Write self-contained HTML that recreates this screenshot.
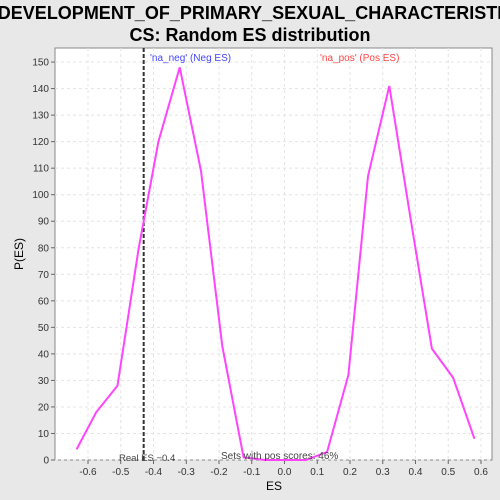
<!DOCTYPE html>
<html><head><meta charset="utf-8"><style>
body{margin:0;background:#e8e8e8;font-family:"Liberation Sans",sans-serif}
svg{display:block}
</style></head><body>
<svg width="500" height="500">
<rect x="0" y="0" width="500" height="500" fill="#e8e8e8"/>
<text x="250" y="19" text-anchor="middle" font-size="18" font-weight="bold" fill="#000">DEVELOPMENT_OF_PRIMARY_SEXUAL_CHARACTERISTI</text>
<text x="250" y="41" text-anchor="middle" font-size="18" font-weight="bold" fill="#000">CS: Random ES distribution</text>
<rect x="55" y="48" width="437" height="412" fill="#fff" stroke="#888"/>
<g id="grid"></g><g id="axes"></g><g id="series"></g>
<text x="274" y="490" text-anchor="middle" font-size="12">ES</text>
<text x="23" y="254" text-anchor="middle" font-size="12" transform="rotate(-90 23 254)">P(ES)</text>
<text x="150" y="61" font-size="10" fill="#4444ff">'na_neg' (Neg ES)</text>
<text x="320" y="61" font-size="10" fill="#ff4444">'na_pos' (Pos ES)</text>
<text x="119" y="461" font-size="9.5" fill="#444">Real ES −0.4</text>
<text x="221" y="459" font-size="10" fill="#444">Sets with pos scores: 46%</text>
</svg>
<script>
const xVals=[-0.635,-0.575,-0.51,-0.445,-0.385,-0.32,-0.255,-0.19,-0.125,-0.06,0,0.065,0.13,0.195,0.255,0.32,0.385,0.45,0.515,0.58];
const yVals=[4,18,28,80,120,148,109,43,1,0,0,0,3,32,107,141,91,42,31,8];
const xTicks=[-0.6,-0.5,-0.4,-0.3,-0.2,-0.1,0,0.1,0.2,0.3,0.4,0.5,0.6];
const yTicks=[0,10,20,30,40,50,60,70,80,90,100,110,120,130,140,150];
const realES=-0.43;
const NS='http://www.w3.org/2000/svg';
const X=v=>284.5+v*327.5, Y=v=>460-v*2.653;
function mk(t,a,p){const e=document.createElementNS(NS,t);for(const k in a)e.setAttribute(k,a[k]);p.appendChild(e);return e;}
const g=document.getElementById('grid'),ax=document.getElementById('axes'),s=document.getElementById('series');
xTicks.forEach(t=>{
 const l=mk('line',{x1:X(t),x2:X(t),y1:48,y2:460,stroke:'#e4e4e4','stroke-dasharray':'3,3'},g);
 
 const k=mk('line',{x1:X(t),x2:X(t),y1:460,y2:464,stroke:'#666'},ax);
 
 const tx=mk('text',{x:X(t),y:475,'text-anchor':'middle','font-size':'10',fill:'#333'},ax);
 tx.textContent=t.toFixed(1);
 
});
yTicks.forEach(t=>{
 const l=mk('line',{x1:55,x2:492,y1:Y(t),y2:Y(t),stroke:'#e4e4e4','stroke-dasharray':'3,3'},g);
 
 const k=mk('line',{x1:51,x2:55,y1:Y(t),y2:Y(t),stroke:'#666'},ax);
 
 const tx=mk('text',{x:49,y:Y(t)+3.5,'text-anchor':'end','font-size':'10',fill:'#333'},ax);
 tx.textContent=t;
 
});
const rl=mk('line',{x1:X(realES),x2:X(realES),y1:48,y2:460,stroke:'#333','stroke-width':2,'stroke-dasharray':'4,2'},s);

const pl=mk('polyline',{points:xVals.map((x,i)=>X(x)+','+Y(yVals[i])).join(' '),fill:'none',stroke:'#ff44ff','stroke-width':2},s);

</script>
</body></html>
